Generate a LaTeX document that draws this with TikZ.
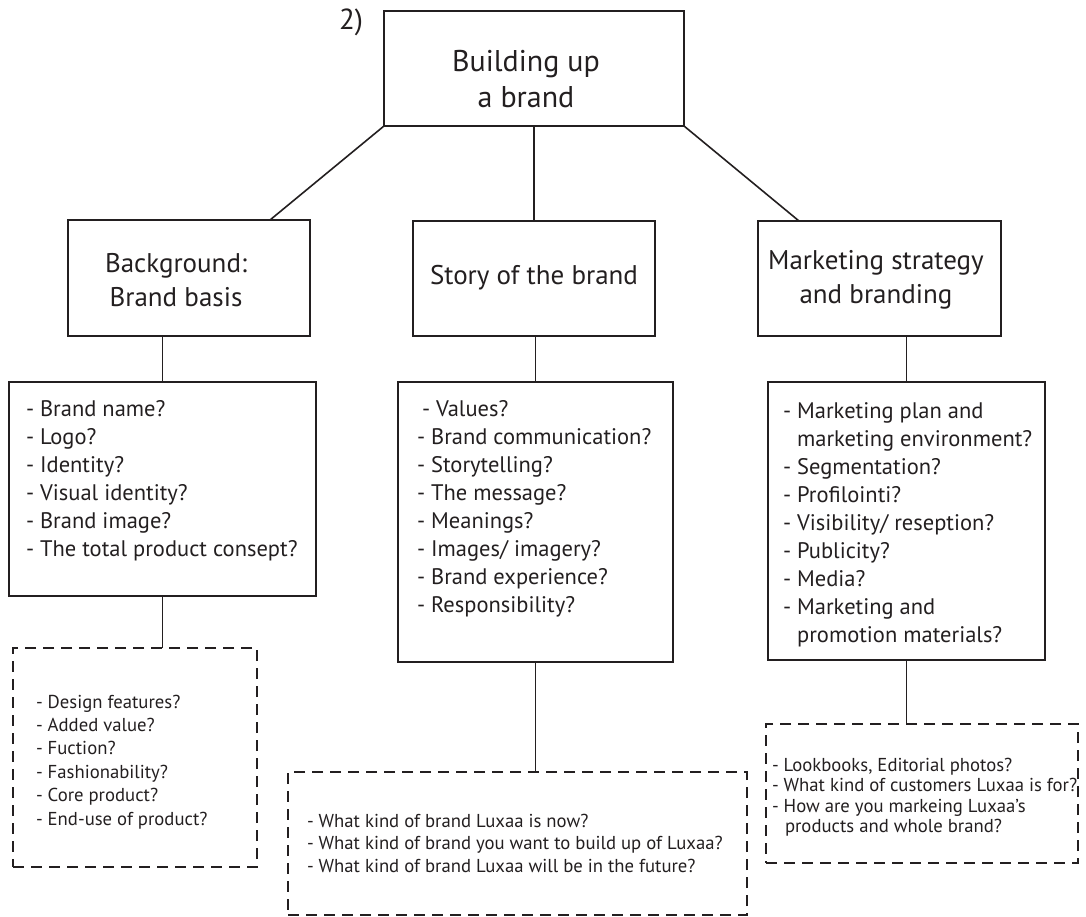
\documentclass[tikz,border=0pt]{standalone}
\usepackage{fontspec}
\setmainfont{PT Sans}
\usetikzlibrary{calc}
\definecolor{ink}{HTML}{231F20}
\begin{document}
\begin{tikzpicture}[x=1pt,y=-1pt,
  every node/.style={inner sep=0pt,outer sep=0pt,text=ink},
  box/.style={draw=ink,line width=1.6pt,rectangle},
  dbox/.style={draw=ink,line width=1.5pt,rectangle,dash pattern=on 11pt off 7pt},
  link/.style={draw=ink,line width=1.6pt},
  headfont/.style={font=\fontsize{30}{36}\selectfont},
  midfont/.style={font=\fontsize{27}{34}\selectfont},
  listfont/.style={font=\fontsize{22.5}{28}\selectfont},
  notefont/.style={font=\fontsize{18.7}{23.4}\selectfont},
  notefontb/.style={font=\fontsize{18.7}{22.5}\selectfont},
  notefontc/.style={font=\fontsize{18.7}{20.6}\selectfont}]
\useasboundingbox (0,0) rectangle (1086,917);

% top level
\node[box,minimum width=300pt,minimum height=115pt] (top) at (534,68.5) {};
\node[headfont,align=center] (toptxt) at (526,79) {Building up\\a brand};
\node[font=\fontsize{29}{34}\selectfont] (num) at (351,22) {2)};

% second row
\node[box,minimum width=242pt,minimum height=116pt] (bg) at (189,278) {};
\node[midfont,align=center] (bgtxt) at (176,280) {Background:\\Brand basis};
\node[box,minimum width=242pt,minimum height=115pt] (story) at (534,278.5) {};
\node[midfont] (storytxt) at (534,278) {Story of the brand};
\node[box,minimum width=243pt,minimum height=115pt] (mk) at (879.5,278.5) {};
\node[midfont,align=center] (mktxt) at (876,280) {Marketing strategy\\and branding};

\draw[link] (top.south west) -- ([xshift=81pt]bg.north);
\draw[link] (top.south) -- (story.north);
\draw[link] (top.south east) -- ([xshift=-80.5pt]mk.north);

% question lists
\node[box,minimum width=307pt,minimum height=214pt] (bglist) at (162.5,489) {};
\node[listfont,anchor=base west] (bgq) at (26,416) {\begin{tabular}[t]{@{}l@{}}
- Brand name?\\
- Logo?\\
- Identity?\\
- Visual identity?\\
- Brand image?\\
- The total product consept?
\end{tabular}};

\node[box,minimum width=275pt,minimum height=280pt] (storylist) at (535.5,522) {};
\node[listfont,anchor=base west] (storyq) at (417,416) {\begin{tabular}[t]{@{}l@{}}
\hspace{5pt}- Values?\\
- Brand communication?\\
- Storytelling?\\
- The message?\\
- Meanings?\\
- Images/ imagery?\\
- Brand experience?\\
- Responsibility?
\end{tabular}};

\node[box,minimum width=277pt,minimum height=278pt] (mklist) at (906.5,521) {};
\node[listfont,anchor=base west] (mkq) at (783,418) {\begin{tabular}[t]{@{}l@{}}
- Marketing plan and\\
\hphantom{- }marketing environment?\\
- Segmentation?\\
- Profilointi?\\
- Visibility/ reseption?\\
- Publicity?\\
- Media?\\
- Marketing and\\
\hphantom{- }promotion materials?
\end{tabular}};

\draw[link] (bglist.north |- bg.south) -- (bglist.north);
\draw[link] (storylist.north |- story.south) -- (storylist.north);
\draw[link] (mklist.north |- mk.south) -- (mklist.north);

% dashed detail boxes
\node[dbox,minimum width=244pt,minimum height=219pt] (bgd) at (135,757.5) {};
\node[notefont,anchor=base west] (bgdq) at (36,708) {\begin{tabular}[t]{@{}l@{}}
- Design features?\\
- Added value?\\
- Fuction?\\
- Fashionability?\\
- Core product?\\
- End-use of product?
\end{tabular}};

\node[dbox,minimum width=459pt,minimum height=143pt] (storyd) at (517.5,843.5) {};
\node[notefontb,anchor=base west] (storydq) at (307,827) {\begin{tabular}[t]{@{}l@{}}
- What kind of brand Luxaa is now?\\
- What kind of brand you want to build up of Luxaa?\\
- What kind of brand Luxaa will be in the future?
\end{tabular}};

\node[dbox,minimum width=312pt,minimum height=139pt] (mkd) at (922,793.5) {};
\node[notefontc,anchor=base west] (mkdq) at (772,771) {\begin{tabular}[t]{@{}l@{}}
- Lookbooks, Editorial photos?\\
- What kind of customers Luxaa is for?\\
- How are you markeing Luxaa's\\
\hspace{13pt}products and whole brand?
\end{tabular}};

\draw[link] (bglist.south) -- (bglist.south |- bgd.north);
\draw[link] (storylist.south) -- (storylist.south |- storyd.north);
\draw[link] (mklist.south) -- (mklist.south |- mkd.north);
\end{tikzpicture}
\end{document}
